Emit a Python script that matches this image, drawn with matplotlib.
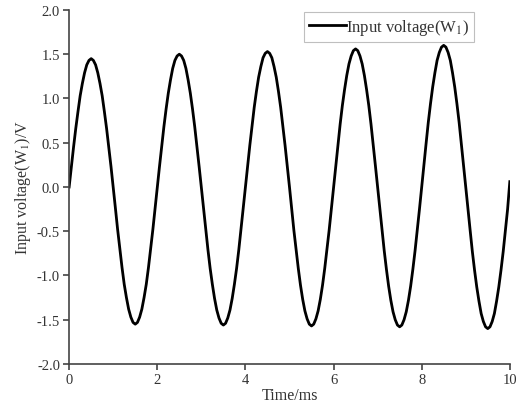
import numpy as np
import matplotlib
matplotlib.use("Agg")
import matplotlib.pyplot as plt

plt.rcParams['font.family'] = ['Liberation Serif', 'DejaVu Serif']
plt.rcParams['mathtext.fontset'] = 'stix'
plt.rcParams['axes.unicode_minus'] = False

# time axis, 0.05 ms steps
time_ms = np.linspace(0, 10, 201)

# measured input voltage W1 (V), one row per half period (1 ms)
voltage = [
    0.00, 0.23, 0.45, 0.66, 0.85, 1.03, 1.17, 1.29, 1.38, 1.43,
    1.45, 1.43, 1.38, 1.29, 1.17, 1.03, 0.85, 0.66, 0.45, 0.23,
    0.00, -0.24, -0.48, -0.70, -0.91, -1.10, -1.25, -1.38, -1.47, -1.53,
    -1.55, -1.53, -1.47, -1.38, -1.25, -1.10, -0.91, -0.70, -0.48, -0.24,
    0.00, 0.23, 0.46, 0.68, 0.88, 1.06, 1.21, 1.34, 1.43, 1.48,
    1.50, 1.48, 1.43, 1.34, 1.21, 1.06, 0.88, 0.68, 0.46, 0.23,
    0.00, -0.24, -0.48, -0.71, -0.92, -1.10, -1.26, -1.39, -1.48, -1.54,
    -1.56, -1.54, -1.48, -1.39, -1.26, -1.10, -0.92, -0.71, -0.48, -0.24,
    0.00, 0.24, 0.47, 0.69, 0.90, 1.08, 1.24, 1.36, 1.46, 1.51,
    1.53, 1.51, 1.46, 1.36, 1.24, 1.08, 0.90, 0.69, 0.47, 0.24,
    0.00, -0.25, -0.49, -0.71, -0.92, -1.11, -1.27, -1.40, -1.49, -1.55,
    -1.57, -1.55, -1.49, -1.40, -1.27, -1.11, -0.92, -0.71, -0.49, -0.25,
    0.00, 0.24, 0.48, 0.71, 0.92, 1.10, 1.26, 1.39, 1.48, 1.54,
    1.56, 1.54, 1.48, 1.39, 1.26, 1.10, 0.92, 0.71, 0.48, 0.24,
    0.00, -0.25, -0.49, -0.72, -0.93, -1.12, -1.28, -1.41, -1.50, -1.56,
    -1.58, -1.56, -1.50, -1.41, -1.28, -1.12, -0.93, -0.72, -0.49, -0.25,
    0.00, 0.25, 0.49, 0.73, 0.94, 1.13, 1.29, 1.43, 1.52, 1.58,
    1.60, 1.58, 1.52, 1.43, 1.29, 1.13, 0.94, 0.73, 0.49, 0.25,
    0.00, -0.25, -0.49, -0.73, -0.94, -1.13, -1.29, -1.43, -1.52, -1.58,
    -1.60, -1.58, -1.52, -1.43, -1.29, -1.13, -0.94, -0.73, -0.49, -0.25,
    0.06,
]

x_ticks = [0, 2, 4, 6, 8, 10]
y_ticks = [-2.0, -1.5, -1.0, -0.5, 0.0, 0.5, 1.0, 1.5, 2.0]

fig = plt.figure(figsize=(5.16, 4.06), dpi=100)
ax = fig.add_axes([0.134, 0.101, 0.854, 0.872])

ax.plot(time_ms, voltage, color='black', lw=2, label='Input voltage(W$_1$)')

ax.set_xlim(0, 10)
ax.set_ylim(-2.0, 2.0)
ax.set_xticks(x_ticks)
ax.set_yticks(y_ticks)
ax.set_yticklabels(['%.1f' % v for v in y_ticks])

for side in ['top', 'right']:
    ax.spines[side].set_visible(False)
for side in ['left', 'bottom']:
    ax.spines[side].set_color('#444444')
    ax.spines[side].set_linewidth(1.2)
ax.tick_params(direction='out', length=4.5, width=1.2, color='#444444',
               labelsize=10.5, labelcolor='#333333', pad=2)

ax.set_xlabel('Time/ms', fontsize=11.5, color='#333333', labelpad=1)
ax.set_ylabel('Input voltage(W$_1$)/V', fontsize=11.5, color='#333333', labelpad=3)

leg = ax.legend(loc='upper left', bbox_to_anchor=(0.533, 0.995), fontsize=12,
                frameon=True, fancybox=False, handlelength=2.2, handletextpad=0.0,
                borderpad=0.3, borderaxespad=0.0)
leg.get_frame().set_edgecolor('#b0b0b0')
leg.get_frame().set_linewidth(0.8)
for t in leg.get_texts():
    t.set_color('#333333')

fig.savefig('out.png', dpi=100)
